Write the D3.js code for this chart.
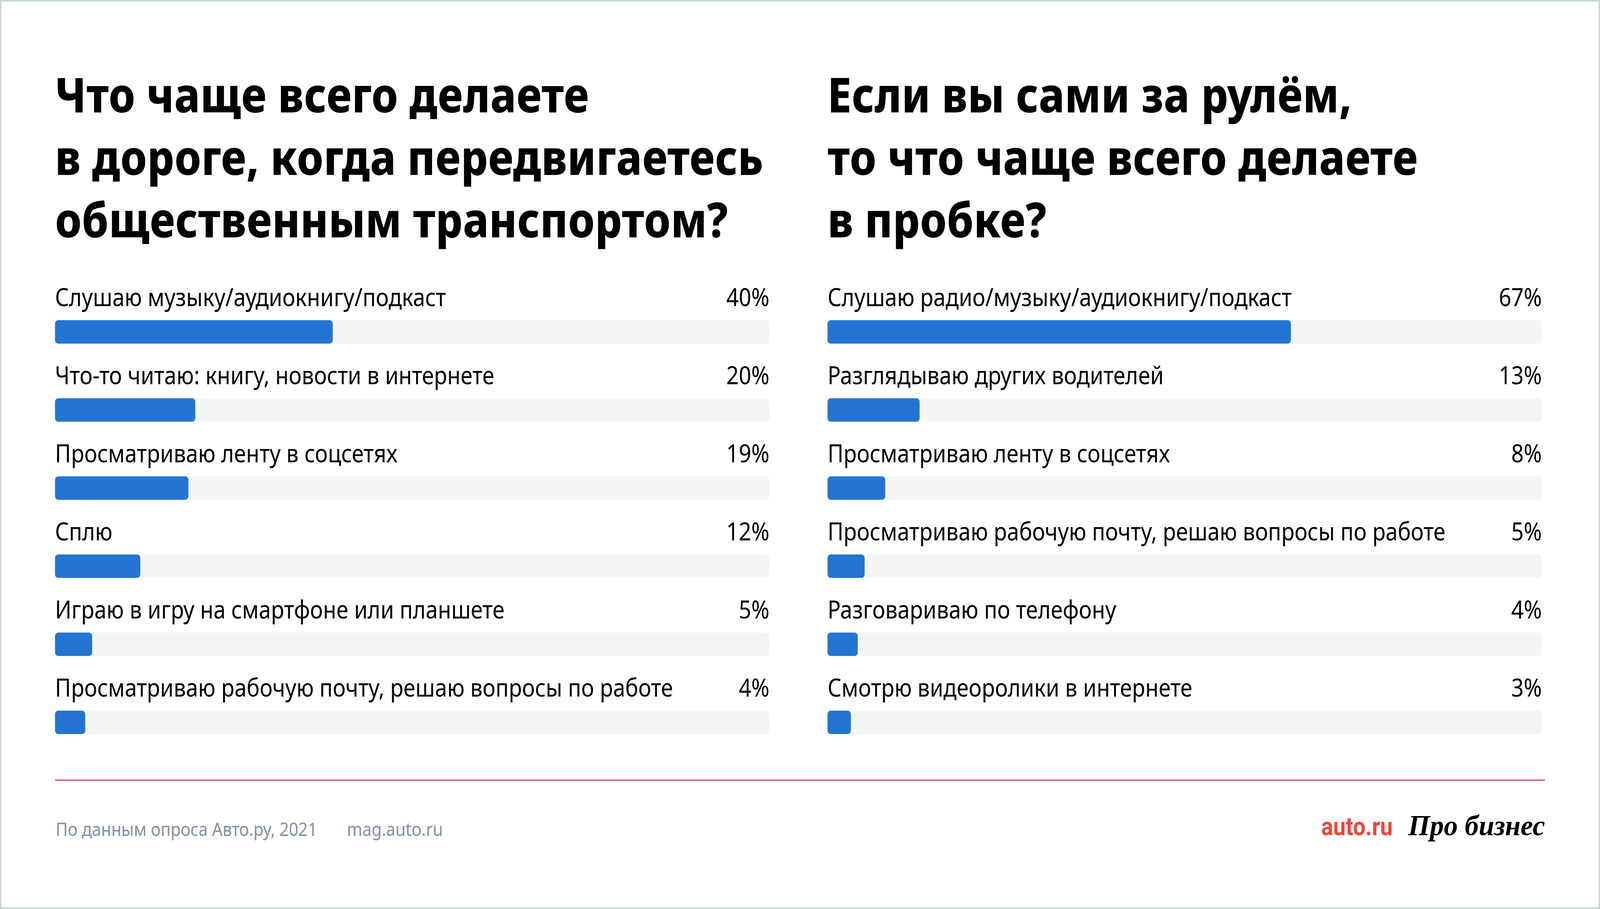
<!DOCTYPE html>
<html>
<head>
<meta charset="utf-8">
<script src="https://cdn.jsdelivr.net/npm/d3@7"></script>
<style>
  html, body { margin: 0; padding: 0; background: #fff; overflow: hidden; }
  svg { display: block; width: 100vw; height: 100vh; }
</style>
</head>
<body>
<svg id="chart" viewBox="0 0 4654 2328" preserveAspectRatio="none"></svg>
<script>
// data
const leftTitle = ['Что чаще всего делаете', 'в дороге, когда передвигаетесь', 'общественным транспортом?'];
const leftCategories = [
  'Слушаю музыку/аудиокнигу/подкаст',
  'Что-то читаю: книгу, новости в интернете',
  'Просматриваю ленту в соцсетях',
  'Сплю',
  'Играю в игру на смартфоне или планшете',
  'Просматриваю рабочую почту, решаю вопросы по работе'
];
const leftValues = [40, 20, 19, 12, 5, 4];

const rightTitle = ['Если вы сами за рулём,', 'то что чаще всего делаете', 'в пробке?'];
const rightCategories = [
  'Слушаю радио/музыку/аудиокнигу/подкаст',
  'Разглядываю других водителей',
  'Просматриваю ленту в соцсетях',
  'Просматриваю рабочую почту, решаю вопросы по работе',
  'Разговариваю по телефону',
  'Смотрю видеоролики в интернете'
];
const rightValues = [67, 13, 8, 5, 4, 3];

const sourceText = 'По данным опроса Авто.ру, 2021';
const siteText = 'mag.auto.ru';

const W = 4654, H = 2328;
const svg = d3.select('#chart');
const bodyFont = "'Noto Sans', sans-serif";

// frame
svg.append('rect')
  .attr('x', 2).attr('y', 2)
  .attr('width', W - 4).attr('height', H - 4)
  .attr('fill', '#fff')
  .attr('stroke', '#cad6d6')
  .attr('stroke-width', 4);

const trackW = 2078;
// bars have a small minimum width from the rounded ends
const x = d3.scaleLinear().domain([0, 100]).range([8, 2008]);

function panel(x0, title, cats, vals) {
  const g = svg.append('g').attr('transform', 'translate(' + x0 + ',0)');

  g.append('g').selectAll('text')
    .data(title)
    .enter().append('text')
      .attr('x', 0)
      .attr('y', (d, i) => 288 + i * 160)
      .attr('font-family', bodyFont)
      .attr('font-weight', 800)
      .attr('font-size', 124)
      .attr('letter-spacing', 0.5)
      .attr('fill', '#000')
      .text(d => d);

  const y = d3.scaleBand().domain(cats).range([700, 1900]);

  const rows = g.selectAll('.row')
    .data(cats.map((c, i) => ({cat: c, val: vals[i]})))
    .enter().append('g')
      .attr('class', 'row')
      .attr('transform', d => 'translate(0,' + y(d.cat) + ')');

  rows.append('rect')
    .attr('x', 0).attr('y', 120)
    .attr('width', trackW).attr('height', 60)
    .attr('rx', 9).attr('ry', 9)
    .attr('fill', '#f4f5f7');

  rows.append('rect')
    .attr('x', 0).attr('y', 120)
    .attr('width', d => x(d.val)).attr('height', 60)
    .attr('rx', 9).attr('ry', 9)
    .attr('fill', '#2475d3');

  rows.append('text')
    .attr('x', 0).attr('y', 84)
    .attr('font-family', bodyFont)
    .attr('font-size', 63.5)
    .attr('fill', '#000')
    .text(d => d.cat);

  rows.append('text')
    .attr('x', trackW).attr('y', 84)
    .attr('text-anchor', 'end')
    .attr('font-family', bodyFont)
    .attr('font-size', 63.5)
    .attr('fill', '#000')
    .text(d => d.val + '%');
}

panel(160, leftTitle, leftCategories, leftValues);
panel(2407, rightTitle, rightCategories, rightValues);

// divider
svg.append('line')
  .attr('x1', 160).attr('x2', 4494)
  .attr('y1', 1998).attr('y2', 1998)
  .attr('stroke', '#d8414d')
  .attr('stroke-width', 3);

// footer
svg.append('text')
  .attr('x', 162).attr('y', 2141)
  .attr('font-family', bodyFont)
  .attr('font-size', 48)
  .attr('fill', '#8193a4')
  .text(sourceText);

svg.append('text')
  .attr('x', 1009).attr('y', 2141)
  .attr('font-family', bodyFont)
  .attr('font-size', 48)
  .attr('fill', '#8193a4')
  .text(siteText);

svg.append('text')
  .attr('x', 3843).attr('y', 2139)
  .attr('font-family', "Roboto, sans-serif")
  .attr('font-weight', 700)
  .attr('font-size', 65)
  .attr('fill', '#f1443d')
  .text('auto.ru');

svg.append('text')
  .attr('x', 4096).attr('y', 2139)
  .attr('font-family', "'Liberation Serif', serif")
  .attr('font-style', 'italic')
  .attr('font-weight', 700)
  .attr('font-size', 74)
  .attr('textLength', 398)
  .attr('lengthAdjust', 'spacingAndGlyphs')
  .attr('fill', '#000')
  .text('Про бизнес');
</script>
</body>
</html>
